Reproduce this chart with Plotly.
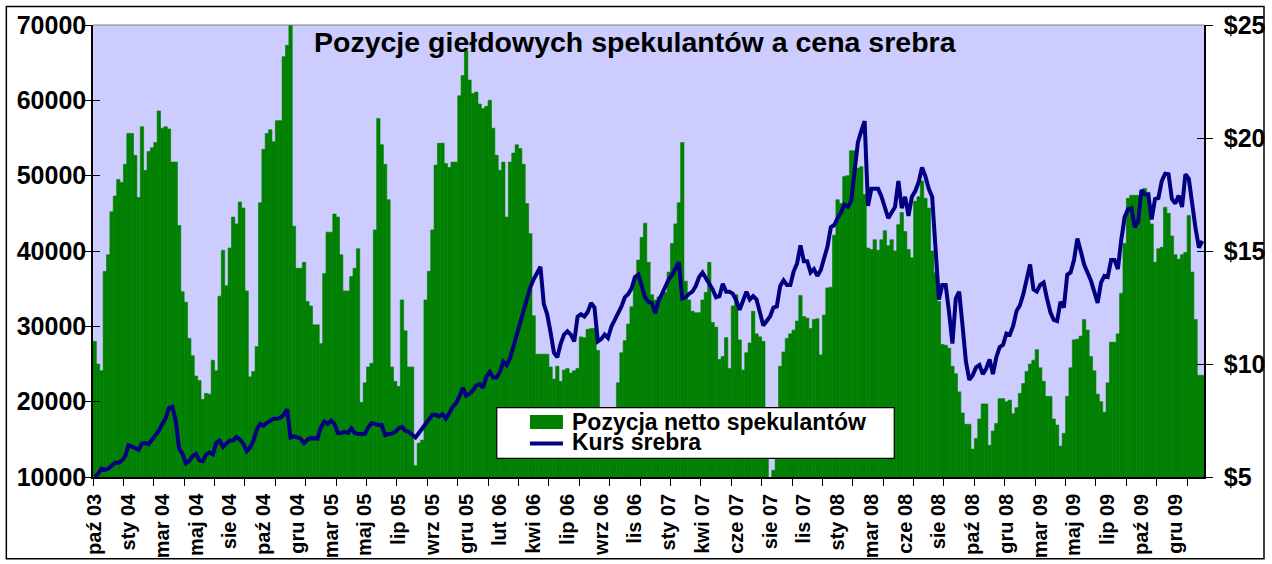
import pandas as pd
import plotly.graph_objects as go

# weekly reports, starting 28 Oct 2003
weeks = pd.date_range("2003-10-28", periods=329, freq="7D")

net_position = [
    28000, 25000, 24100, 37300, 39500, 45200, 47300, 49500, 49100, 51500,
    55600, 55600, 52700, 47100, 56500, 50700, 53200, 53700, 54400, 58600,
    56300, 56500, 56200, 51800, 51800, 43400, 34600, 33200, 28400, 26100,
    23400, 22800, 20300, 21100, 21000, 25500, 24100, 34000, 40100, 35400,
    40400, 44500, 43600, 46500, 45700, 34700, 23300, 24000, 27300, 46400,
    53500, 55600, 56100, 54500, 57300, 57300, 65800, 67300, 70000, 43300,
    37700, 37700, 38500, 33300, 32700, 30200, 30200, 27700, 37000, 42500,
    42500, 44900, 44500, 39500, 34700, 34700, 36600, 37700, 40300, 19900,
    22500, 24600, 25100, 42800, 57600, 54100, 51500, 46800, 24600, 22700,
    22000, 33500, 29400, 24600, 24600, 11500, 14500, 14900, 33500, 37300,
    42800, 51400, 54300, 54300, 51600, 51100, 51800, 51800, 60600, 63300,
    66600, 62700, 60900, 61100, 59500, 58900, 59200, 60000, 56300, 52700,
    50700, 51800, 44500, 51800, 53000, 54100, 53600, 51500, 46300, 42300,
    31400, 26300, 26300, 26300, 26300, 24600, 23000, 24700, 22700, 24200,
    24400, 23800, 24100, 24400, 28600, 28500, 29600, 29700, 29700, 26800,
    19000, 17500, 16500, 17000, 18000, 22500, 26500, 28100, 30300, 32600,
    36500, 38800, 41800, 43700, 38500, 34200, 33500, 33900, 34000, 34500,
    37200, 41000, 43600, 46400, 54400, 36000, 33500, 32000, 31800, 31800,
    33500, 34500, 38500, 30500, 29900, 25600, 26000, 28500, 24400, 32700,
    34200, 28200, 24200, 26500, 27800, 32000, 29000, 28600, 28000, 15000,
    9500, 10900, 16000, 24700, 26600, 28400, 29000, 29500, 30700, 34100,
    31300, 31100, 29700, 30900, 31000, 26200, 31500, 35100, 35200, 42100,
    46800, 46300, 49900, 50000, 53300, 53300, 51000, 51200, 47500, 40400,
    40200, 41500, 40100, 41500, 42700, 40700, 41500, 40000, 43500, 45100,
    42600, 40200, 39100, 46600, 47200, 49300, 47000, 45700, 40000, 37100,
    33300, 27600, 27500, 27100, 24700, 23700, 21300, 18500, 17000, 17000,
    13700, 15100, 17700, 19700, 19700, 14200, 16100, 17100, 20400, 20400,
    20000, 20200, 18400, 19200, 21100, 22400, 24000, 25000, 25500, 26900,
    24500, 22700, 20700, 20700, 17700, 16900, 14100, 15800, 20700, 24500,
    28200, 28300, 28700, 30900, 29500, 26000, 24100, 21000, 20000, 18600,
    22500, 27900, 27900, 29000, 34400, 41000, 47000, 47400, 47400, 47400,
    47900, 48300, 47800, 43600, 38500, 40300, 40500, 45800, 45000, 42000,
    39500, 38900, 39500, 39800, 44700, 37200, 30900, 23500, 23500,
]

silver_price = [
    5.00, 5.15, 5.37, 5.32, 5.37, 5.50, 5.63, 5.63, 5.72, 5.90,
    6.40, 6.35, 6.25, 6.20, 6.48, 6.50, 6.45, 6.67, 6.85, 7.05,
    7.35, 7.60, 8.05, 8.10, 7.50, 6.25, 6.03, 5.60, 5.72, 5.92,
    6.03, 5.74, 5.70, 6.00, 6.08, 6.00, 6.52, 6.62, 6.33, 6.45,
    6.62, 6.62, 6.77, 6.65, 6.48, 6.14, 6.30, 6.60, 7.10, 7.35,
    7.27, 7.40, 7.50, 7.58, 7.58, 7.62, 7.75, 8.00, 6.75, 6.80,
    6.75, 6.70, 6.50, 6.65, 6.72, 6.72, 6.70, 7.20, 7.45, 7.35,
    7.50, 7.35, 6.95, 6.95, 7.00, 6.95, 7.15, 6.95, 6.90, 6.90,
    6.90, 7.20, 7.38, 7.35, 7.30, 7.30, 6.85, 6.90, 6.92, 7.00,
    7.15, 7.22, 7.05, 7.00, 6.85, 6.75, 6.95, 7.15, 7.30, 7.55,
    7.75, 7.75, 7.68, 7.78, 7.58, 7.82, 8.10, 8.27, 8.55, 8.95,
    8.60, 8.68, 8.83, 9.05, 9.12, 8.95, 9.45, 9.65, 9.40, 9.40,
    9.65, 10.10, 9.95, 10.25, 10.80, 11.35, 11.85, 12.40, 12.95, 13.40,
    13.75, 14.00, 14.30, 12.65, 12.20, 11.40, 10.50, 10.30, 10.90, 11.30,
    11.45, 11.30, 11.00, 12.10, 12.20, 12.10, 12.30, 12.70, 12.50, 11.00,
    11.10, 11.30, 11.15, 11.65, 11.95, 12.20, 12.55, 12.95, 13.10, 13.35,
    13.85, 13.95, 13.40, 12.95, 12.75, 12.70, 12.25, 12.80, 13.10, 13.40,
    13.75, 13.95, 14.20, 14.50, 12.90, 12.95, 13.10, 13.20, 13.45, 13.85,
    14.05, 13.80, 13.50, 13.30, 12.95, 13.00, 13.55, 13.20, 13.20, 13.10,
    12.80, 12.40, 12.80, 13.20, 12.85, 13.00, 12.85, 12.20, 11.70, 11.90,
    12.10, 12.50, 12.55, 13.45, 13.70, 13.50, 13.50, 14.10, 14.45, 15.25,
    14.55, 14.55, 14.05, 14.20, 13.90, 14.15, 14.70, 15.20, 16.05, 16.15,
    16.45, 16.70, 17.05, 16.95, 17.20, 18.50, 19.80, 20.30, 20.75, 17.00,
    17.75, 17.75, 17.75, 17.40, 16.85, 16.45, 16.70, 16.95, 18.10, 16.90,
    17.40, 16.55, 17.40, 17.65, 18.05, 18.70, 18.30, 17.75, 17.40, 14.90,
    12.85, 13.50, 13.50, 12.30, 10.90, 12.90, 13.20, 11.70, 10.10, 9.30,
    9.50, 9.85, 9.95, 9.55, 9.80, 10.20, 9.55, 10.30, 10.75, 10.85,
    11.35, 11.30, 11.70, 12.35, 12.60, 13.10, 13.70, 14.40, 13.30, 13.20,
    13.50, 13.60, 12.90, 12.30, 11.95, 11.90, 12.75, 12.50, 13.95, 14.05,
    14.60, 15.55, 15.00, 14.40, 14.05, 13.70, 13.20, 12.70, 13.60, 13.90,
    13.85, 14.60, 14.60, 14.20, 15.50, 16.50, 16.85, 16.90, 16.05, 16.30,
    17.70, 17.50, 17.50, 16.40, 17.30, 17.35, 18.10, 18.42, 18.40, 17.30,
    17.10, 17.45, 16.95, 18.40, 18.20, 17.00, 16.00, 15.15, 15.45,
]

# one label every 10 weeks
tick_labels = [
    "paź 03", "sty 04", "mar 04", "maj 04", "sie 04", "paź 04", "gru 04",
    "mar 05", "maj 05", "lip 05", "wrz 05", "gru 05", "lut 06", "kwi 06",
    "lip 06", "wrz 06", "lis 06", "sty 07", "kwi 07", "cze 07", "sie 07",
    "lis 07", "sty 08", "mar 08", "cze 08", "sie 08", "paź 08", "gru 08",
    "mar 09", "maj 09", "lip 09", "paź 09", "gru 09",
]
price_ticks = [5, 10, 15, 20, 25]
price_labels = ["$5", "$10", "$15", "$20", "$25"]

FONT = "Arial, Liberation Sans, sans-serif"
half = pd.Timedelta(days=3.5)
week_ms = 7 * 24 * 3600 * 1000

fig = go.Figure()
fig.add_trace(go.Bar(
    x=weeks, y=net_position, width=week_ms,
    marker=dict(color="#008000", line=dict(color="#008000", width=0.6)),
    name="Pozycja netto spekulantów", showlegend=False,
))
fig.add_trace(go.Scatter(
    x=weeks, y=silver_price, yaxis="y2", mode="lines",
    line=dict(color="#000080", width=4),
    name="Kurs srebra", showlegend=False,
))
# empty traces only to carry the inner half of the crossing tick marks
fig.add_trace(go.Scatter(x=[], y=[], yaxis="y3", showlegend=False, hoverinfo="skip"))
fig.add_trace(go.Scatter(x=[], y=[], yaxis="y4", showlegend=False, hoverinfo="skip"))

tickfont = dict(family=FONT, size=25, color="black", weight="bold")

fig.update_layout(
    width=1272, height=564,
    margin=dict(l=93, r=68, t=25, b=87, autoexpand=False),
    paper_bgcolor="white", plot_bgcolor="#CCCCFF",
    xaxis=dict(
        type="date",
        range=[weeks[0] - half, weeks[-1] + half],
        tickvals=list(weeks[::10]), ticktext=tick_labels,
        tickangle=-90, ticks="outside", ticklen=0,
        ticklabelstandoff=7,
        tickfont=dict(family=FONT, size=20, color="black", weight="bold"),
        minor=dict(tickmode="array", tickvals=list(weeks[::9] - half),
                   ticks="outside", ticklen=7, tickcolor="black", tickwidth=1),
        showline=True, linecolor="black", linewidth=1.5,
        showgrid=False, zeroline=False,
    ),
    yaxis=dict(
        range=[10000, 70000], tick0=10000, dtick=10000, tickformat="d",
        ticks="outside", ticklen=7, tickcolor="black",
        ticklabelstandoff=-7,
        tickfont=tickfont,
        showline=True, linecolor="black", linewidth=1.5,
        showgrid=False, zeroline=False,
    ),
    yaxis2=dict(
        range=[5, 25], overlaying="y", side="right",
        tickvals=price_ticks, ticktext=price_labels,
        ticks="outside", ticklen=7, tickcolor="black",
        ticklabelstandoff=6,
        tickfont=tickfont,
        showline=True, linecolor="black", linewidth=1.5,
        showgrid=False, zeroline=False,
    ),
    yaxis3=dict(
        range=[10000, 70000], tick0=10000, dtick=10000, overlaying="y",
        side="left", ticks="inside", ticklen=7, tickcolor="black",
        showticklabels=False, showline=False, showgrid=False, zeroline=False,
    ),
    yaxis4=dict(
        range=[5, 25], overlaying="y", side="right", tickvals=price_ticks,
        ticks="inside", ticklen=7, tickcolor="black",
        showticklabels=False, showline=False, showgrid=False, zeroline=False,
    ),
)

# plot-area top edge and outer chart frame
fig.add_shape(type="line", xref="paper", yref="paper", x0=0, x1=1, y0=1, y1=1,
              line=dict(color="#808080", width=1))
fig.add_shape(type="rect", xref="paper", yref="paper",
              x0=-0.0780, x1=1.0540, y0=-0.1810, y1=1.0410,
              line=dict(color="black", width=1.5))

# title
fig.add_annotation(
    text="Pozycje giełdowych spekulantów a cena srebra",
    xref="paper", yref="paper", x=0.4887, y=0.962,
    xanchor="center", yanchor="middle", showarrow=False,
    font=dict(family=FONT, size=28.5, color="black", weight="bold"),
)

# legend box
fig.add_shape(type="rect", xref="paper", yref="paper",
              x0=0.3634, x1=0.7212, y0=0.0414, y1=0.1533,
              fillcolor="white", line=dict(color="black", width=1.2))
fig.add_shape(type="rect", xref="paper", yref="paper",
              x0=0.3933, x1=0.4230, y0=0.1062, y1=0.1372,
              fillcolor="#008000", line=dict(width=0))
fig.add_shape(type="line", xref="paper", yref="paper",
              x0=0.3933, x1=0.4230, y0=0.0741, y1=0.0741,
              line=dict(color="#000080", width=4))
legend_font = dict(family=FONT, size=23, color="black", weight="bold")
fig.add_annotation(text="Pozycja netto spekulantów", xref="paper", yref="paper",
                   x=0.4293, y=0.121, xanchor="left", yanchor="middle",
                   showarrow=False, font=legend_font)
fig.add_annotation(text="Kurs srebra", xref="paper", yref="paper",
                   x=0.4293, y=0.0768, xanchor="left", yanchor="middle",
                   showarrow=False, font=legend_font)

# the page is photographed edge to edge, so drop the browser's body margin
fig.write_html("out.html", config={"displayModeBar": False},
               post_script="document.body.style.margin='0px';")
